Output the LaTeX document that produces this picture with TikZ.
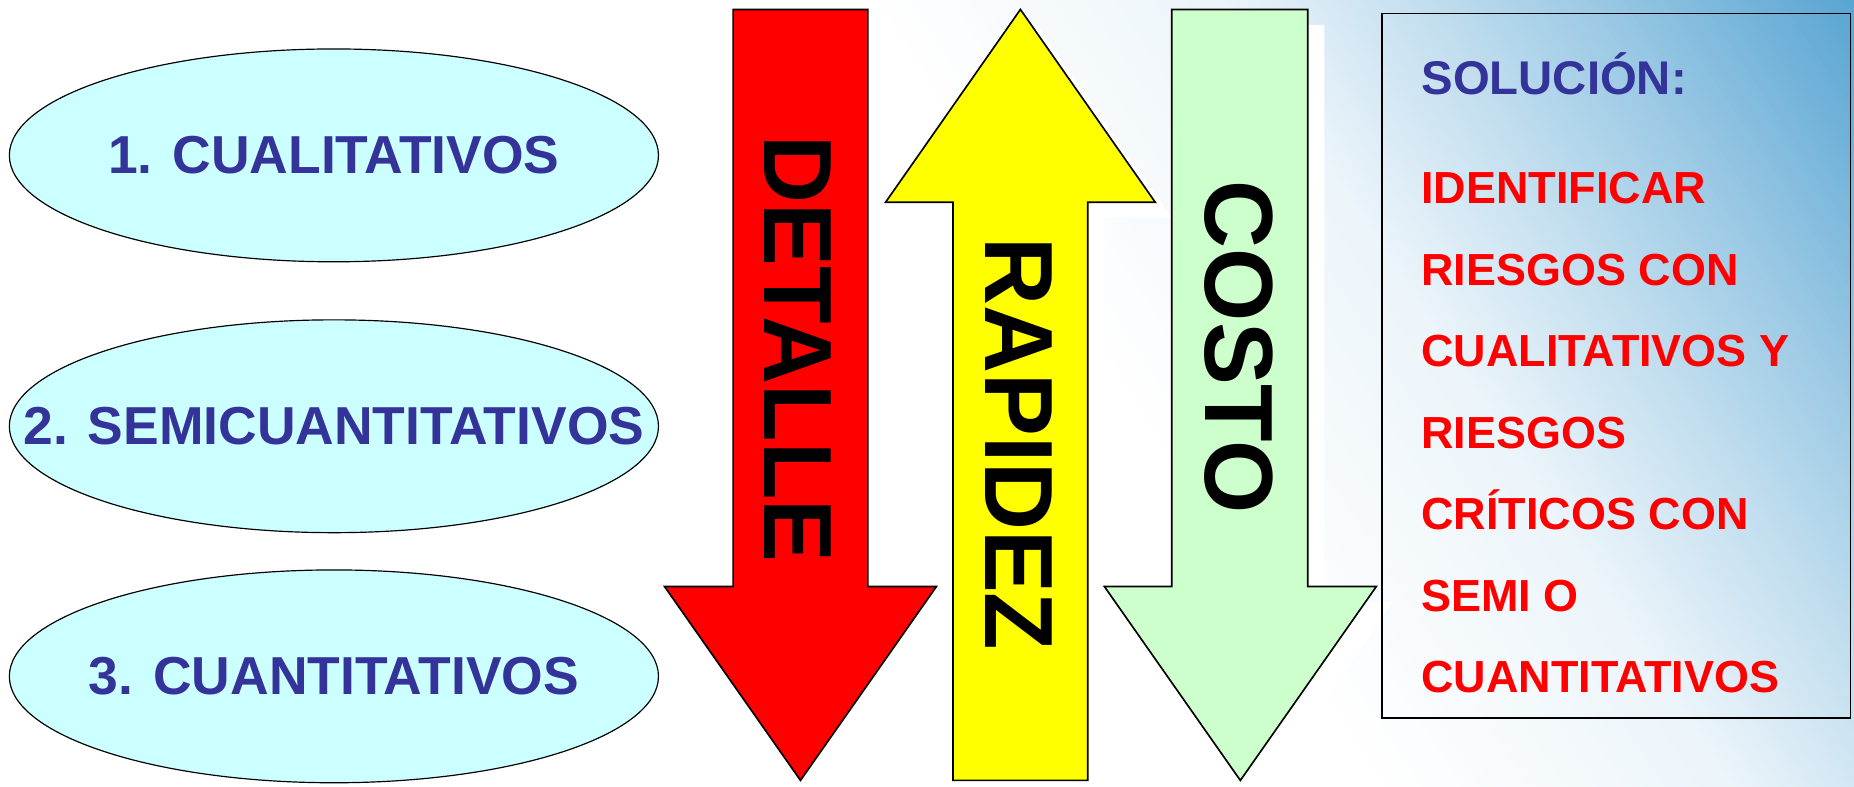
\documentclass[tikz,border=0pt]{standalone}
\usepackage{fontspec}
\setmainfont{Liberation Sans}
\usepackage{graphicx}
\usetikzlibrary{shapes.geometric,shadows,calc}

\definecolor{ovalfill}{HTML}{CCFFFF}
\definecolor{labelblue}{HTML}{333399}
\definecolor{detailred}{HTML}{FF0000}
\definecolor{speedyellow}{HTML}{FFFF00}
\definecolor{costgreen}{HTML}{CCFFCC}
\definecolor{skyblue}{HTML}{3F97CC}

\newcommand{\stretchy}[1]{\scalebox{1}[1.03]{#1}}

\begin{document}
\begin{tikzpicture}[x=1pt, y=-1pt,
  ovalnode/.style={ellipse, draw=black, line width=1pt, fill=ovalfill,
    minimum width=549pt, minimum height=180pt, inner sep=0pt},
  ovaltext/.style={inner sep=0pt, text=labelblue, font=\fontsize{45.2}{50}\selectfont\bfseries},
  bigarrow/.style={draw=black, line width=1.4pt, line join=miter,
    drop shadow={shadow xshift=14pt, shadow yshift=-13pt, fill=white, opacity=1}},
  arrowword/.style={inner sep=0pt, rotate=-90, text=black, font=\fontsize{79.6}{85}\selectfont\bfseries},
  solbox/.style={draw=black, line width=1.4pt, inner sep=0pt, minimum width=396pt, minimum height=596pt},
  soltitle/.style={anchor=base west, inner sep=0pt, text=labelblue, font=\fontsize{40}{44}\selectfont\bfseries},
  solline/.style={anchor=base west, inner sep=0pt, text=detailred, font=\fontsize{38}{42}\selectfont\bfseries}
]
\useasboundingbox (0,0) rectangle (1568,665);

% background: white, turning blue towards the upper right corner
\fill[white] (0,0) rectangle (1568,665);
\coordinate (corner) at (1568,0);
\begin{scope}
  \clip (0,0) rectangle (1568,665);
  \foreach \i in {0,...,179} {
    \pgfmathsetmacro\da{4*\i}
    \pgfmathsetmacro\db{4*\i+4.6}
    \pgfmathsetmacro\dm{4*\i+2}
    \pgfmathsetmacro\w{\dm<197 ? 84-(\dm-15)/182*34 :
      (\dm<323 ? 50-(\dm-197)/126*21 :
      (\dm<450 ? 29-(\dm-323)/127*19 : max(0,10-(\dm-450)/25)))}
    \fill[skyblue!\w!white]
      ($(corner)+\da*(-0.839,0.545)-2000*(0.545,0.839)$) --
      ($(corner)+\da*(-0.839,0.545)+2000*(0.545,0.839)$) --
      ($(corner)+\db*(-0.839,0.545)+2000*(0.545,0.839)$) --
      ($(corner)+\db*(-0.839,0.545)-2000*(0.545,0.839)$) -- cycle;
  }
\end{scope}

% the three method families
\node[ovalnode] (e1) at (282.4,131.4) {};
\node[ovalnode] (e2) at (282.4,360.5) {};
\node[ovalnode] (e3) at (282.4,572) {};
\node[ovaltext] (t1) at (e1.center) {1. CUALITATIVOS};
\node[ovaltext] (t2) at (e2.center) {2. SEMICUANTITATIVOS};
\node[ovaltext] (t3) at (e3.center) {3. CUANTITATIVOS};

% detail grows downwards
\draw[bigarrow, fill=detailred] (620,8) -- (734,8) -- (734,496) -- (792,496) -- (677,660)
  -- (562,496) -- (620,496) -- cycle;
% speed grows upwards
\draw[bigarrow, fill=speedyellow] (863,8) -- (977,171) -- (920,171) -- (920,660)
  -- (806,660) -- (806,171) -- (749,171) -- cycle;
% cost grows downwards
\draw[bigarrow, fill=costgreen] (991,8) -- (1106,8) -- (1106,496) -- (1164,496) -- (1049,660)
  -- (934,496) -- (991,496) -- cycle;

\node[arrowword] (detalle) at (675,295) {\stretchy{DETALLE}};
\node[arrowword] (rapidez) at (862,375.4) {\stretchy{RAPIDEZ}};
\node[arrowword] (costo) at (1048,293.8) {\stretchy{COSTO}};

% solution panel
\node[solbox] (sol) at (1367,309.5) {};
\node[soltitle] (s0) at (1202,80.3) {SOLUCIÓN:};
\node[solline] (s1) at (1202,172.5) {IDENTIFICAR};
\node[solline] (s2) at (1202,241.4) {RIESGOS CON};
\node[solline] (s3) at (1202,310.3) {CUALITATIVOS Y};
\node[solline] (s4) at (1202,379.2) {RIESGOS};
\node[solline] (s5) at (1202,448.1) {CRÍTICOS CON};
\node[solline] (s6) at (1202,517) {SEMI O};
\node[solline] (s7) at (1202,585.9) {CUANTITATIVOS};
\end{tikzpicture}
\end{document}
